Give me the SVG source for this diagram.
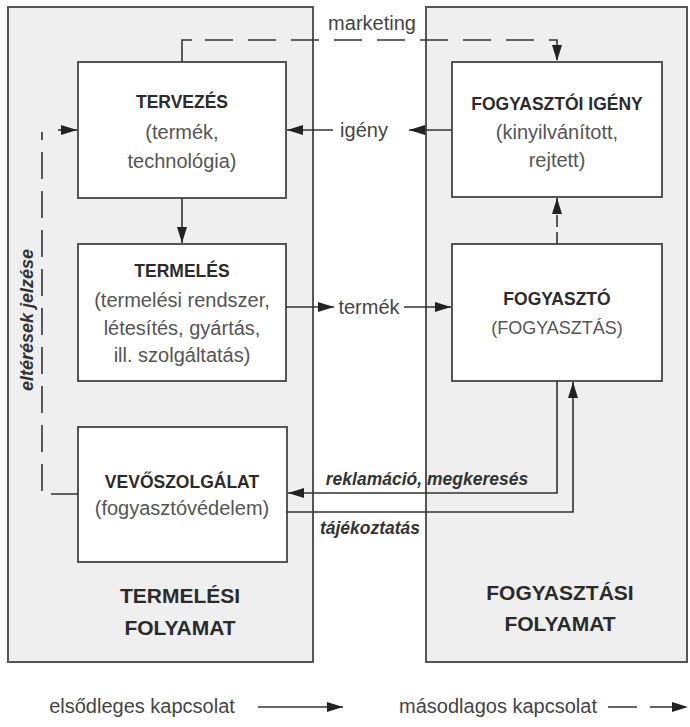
<svg xmlns="http://www.w3.org/2000/svg" width="690" height="727" viewBox="0 0 690 727">
<style>
.panel{fill:#efefef;stroke:#555;stroke-width:2}
.box{fill:#fff;stroke:#555;stroke-width:2}
.ln{fill:none;stroke:#333;stroke-width:1.6}
.dash{stroke-dasharray:28 15}
.t{font-family:"Liberation Sans",Arial,sans-serif;text-anchor:middle}
.b{font-weight:bold;font-size:17.5px;fill:#2b2b2b}
.r{font-size:20px;fill:#555}
.big{font-weight:bold;font-size:21px;fill:#2b2b2b}
.lab{font-family:"Liberation Sans",Arial,sans-serif;font-size:20px;fill:#444}
.bi{font-family:"Liberation Sans",Arial,sans-serif;font-weight:bold;font-style:italic;font-size:17.5px;fill:#333}
</style>
<defs>
<marker id="ah" markerUnits="userSpaceOnUse" markerWidth="16" markerHeight="10" refX="16" refY="5" orient="auto">
<path d="M0,0 L16,5 L0,10 z" fill="#222"/>
</marker>
</defs>
<rect width="690" height="727" fill="#fff"/>
<g id="panel-termelesi">
<rect class="panel" x="8" y="7" width="305" height="655"/>
<text class="t big" x="180" y="603">TERMELÉSI</text>
<text class="t big" x="180" y="635">FOLYAMAT</text>
</g>
<g id="panel-fogyasztasi">
<rect class="panel" x="426" y="7" width="261" height="655"/>
<text class="t big" x="560" y="600">FOGYASZTÁSI</text>
<text class="t big" x="560" y="631">FOLYAMAT</text>
</g>
<g id="node-tervezes">
<rect class="box" x="78" y="62" width="208" height="136"/>
<text class="t b" x="182" y="108">TERVEZÉS</text>
<text class="t r" x="182" y="139">(termék,</text>
<text class="t r" x="182" y="168">technológia)</text>
</g>
<g id="node-fogyasztoi-igeny">
<rect class="box" x="452" y="62" width="210" height="135"/>
<text class="t b" x="557" y="110">FOGYASZTÓI IGÉNY</text>
<text class="t r" x="557" y="139">(kinyilvánított,</text>
<text class="t r" x="557" y="167">rejtett)</text>
</g>
<g id="node-termeles">
<rect class="box" x="78" y="244" width="208" height="137"/>
<text class="t b" x="182" y="277">TERMELÉS</text>
<text class="t r" x="182" y="307">(termelési rendszer,</text>
<text class="t r" x="182" y="335">létesítés, gyártás,</text>
<text class="t r" x="182" y="362">ill. szolgáltatás)</text>
</g>
<g id="node-fogyaszto">
<rect class="box" x="452" y="244" width="210" height="137"/>
<text class="t b" x="557" y="305">FOGYASZTÓ</text>
<text class="t r" x="557" y="334" style="font-size:18px">(FOGYASZTÁS)</text>
</g>
<g id="node-vevoszolgalat">
<rect class="box" x="78" y="427" width="209" height="135"/>
<text class="t b" x="182" y="488">VEVŐSZOLGÁLAT</text>
<text class="t r" x="182" y="515">(fogyasztóvédelem)</text>
</g>
<g id="connectors">
<path class="ln" d="M182,62 V40 H192"/>
<path class="ln dash" d="M205,40 H557 V61" marker-end="url(#ah)"/>
<text class="lab" x="372" y="30" text-anchor="middle">marketing</text>
<path class="ln" d="M452,130 H409" marker-end="url(#ah)"/>
<path class="ln" d="M333,130 H287" marker-end="url(#ah)"/>
<text class="lab" x="364" y="137" text-anchor="middle">igény</text>
<path class="ln" d="M182,198 V243" marker-end="url(#ah)"/>
<path class="ln" d="M557,244 V198" style="stroke-dasharray:12 5" marker-end="url(#ah)"/>
<path class="ln" d="M286,307 H334" marker-end="url(#ah)"/>
<path class="ln" d="M404,307 H451" marker-end="url(#ah)"/>
<text class="lab" x="369" y="314" text-anchor="middle">termék</text>
<path class="ln" d="M557,381 V493 H288" marker-end="url(#ah)"/>
<text class="bi" x="427" y="485" text-anchor="middle">reklamáció, megkeresés</text>
<path class="ln" d="M287,512 H573 V382" marker-end="url(#ah)"/>
<text class="bi" x="370" y="534" text-anchor="middle">tájékoztatás</text>
<path class="ln" d="M78,494 H42 V132" style="stroke-dasharray:27 12"/>
<path class="ln" d="M58,130 H77" marker-end="url(#ah)"/>
<text class="bi" transform="translate(33,320) rotate(-90)" text-anchor="middle" style="font-size:18px">eltérések jelzése</text>
</g>
<g id="legend">
<text class="lab" x="142" y="713" text-anchor="middle">elsődleges kapcsolat</text>
<path class="ln" d="M258,707 H343" marker-end="url(#ah)"/>
<text class="lab" x="498" y="713" text-anchor="middle">másodlagos kapcsolat</text>
<path class="ln" d="M608,707 H688" style="stroke-dasharray:29 13" marker-end="url(#ah)"/>
</g>
</svg>
